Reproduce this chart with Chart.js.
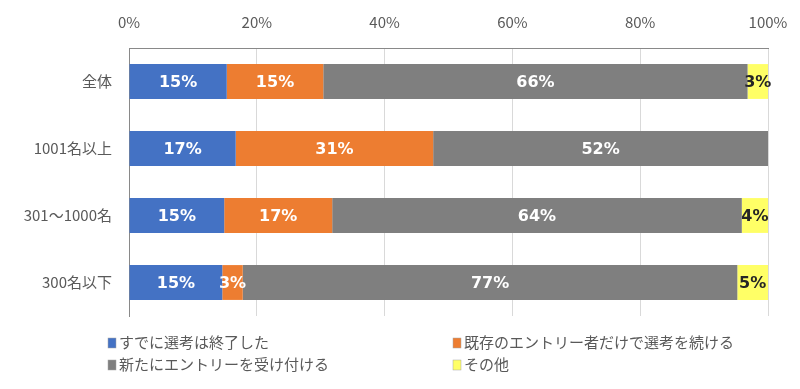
<!DOCTYPE html>
<html><head><meta charset="utf-8">
<script src="https://cdn.jsdelivr.net/npm/chart.js@4/dist/chart.umd.min.js"></script>
<style>html,body{margin:0;padding:0;background:#fff;}#wrap{width:800px;height:389px;position:relative;}</style>
</head><body><div id="wrap"><canvas id="c" width="800" height="389"></canvas></div>
<script>
const categories = ['全体', '1001名以上', '301～1000名', '300名以下'];
const seriesNames = ['すでに選考は終了した', '既存のエントリー者だけで選考を続ける', '新たにエントリーを受け付ける', 'その他'];
const finished = [15.3, 16.7, 14.9, 14.6];
const continuing = [15.1, 30.9, 16.9, 3.2];
const newEntry = [66.4, 52.4, 64.1, 77.4];
const other = [3.2, 0, 4.1, 4.8];
const xTicks = [0, 20, 40, 60, 80, 100];
const colors = ['#4472C4', '#ED7D31', '#7F7F7F', '#FFFF66'];
const labelColors = ['#ffffff', '#ffffff', '#ffffff', '#262626'];

const seriesValues = [finished, continuing, newEntry, other];

const labelPlugin = {
  id: 'barLabels',
  afterDatasetsDraw(chart) {
    const ctx = chart.ctx;
    ctx.save();
    ctx.font = 'bold 16px "DejaVu Sans", Verdana, sans-serif';
    ctx.textAlign = 'center';
    ctx.textBaseline = 'middle';
    chart.data.datasets.forEach((ds, di) => {
      const meta = chart.getDatasetMeta(di);
      meta.data.forEach((bar, i) => {
        const v = ds.data[i];
        if (!v) return;
        const x = (bar.x + bar.base) / 2;
        ctx.fillStyle = labelColors[di];
        ctx.fillText(Math.round(v) + '%', x, bar.y + 1);
      });
    });
    ctx.restore();
  }
};

const legendPlugin = {
  id: 'gridLegend',
  afterDraw(chart) {
    const ctx = chart.ctx;
    ctx.save();
    ctx.font = '15px "Noto Sans CJK JP", sans-serif';
    ctx.textBaseline = 'middle';
    ctx.textAlign = 'left';
    const cols = [108, 453];
    const rows = [342, 364];
    seriesNames.forEach((name, i) => {
      const x = cols[i % 2];
      const y = rows[Math.floor(i / 2)];
      ctx.fillStyle = colors[i];
      ctx.fillRect(x, y - 4, 8, 10);
      ctx.strokeStyle = '#a6a6a6';
      ctx.lineWidth = 0.5;
      ctx.strokeRect(x, y - 4, 8, 10);
      ctx.fillStyle = '#595959';
      ctx.fillText(name, x + 11, y);
    });
    ctx.restore();
  }
};

new Chart(document.getElementById('c'), {
  type: 'bar',
  data: {
    labels: categories,
    datasets: seriesValues.map((vals, i) => ({
      label: seriesNames[i],
      data: vals,
      backgroundColor: colors[i],
      borderWidth: 0,
      barPercentage: 0.52,
      categoryPercentage: 1.0
    }))
  },
  options: {
    indexAxis: 'y',
    responsive: false,
    animation: false,
    layout: { padding: { left: 0, right: 32, top: 0, bottom: 73 } },
    plugins: { legend: { display: false }, tooltip: { enabled: false } },
    scales: {
      x: {
        position: 'top',
        stacked: true,
        min: 0, max: 100,
        afterBuildTicks(scale) { scale.ticks = xTicks.map(v => ({ value: v })); },
        afterFit(scale) { scale.height = 48; scale.paddingLeft = 0; scale.paddingRight = 0; },
        ticks: {
          callback: v => v + '%',
          color: '#595959',
          font: { family: '"Noto Sans CJK JP", sans-serif', size: 15 },
          padding: 17,
          maxRotation: 0
        },
        grid: { color: '#d9d9d9', lineWidth: 1, drawTicks: false },
        border: { display: true, color: '#898989', width: 1 }
      },
      y: {
        stacked: true,
        afterFit(scale) { scale.width = 129; scale.paddingTop = 0; scale.paddingBottom = 0; },
        ticks: {
          color: '#595959',
          font: { family: '"Noto Sans CJK JP", sans-serif', size: 15 },
          padding: 17
        },
        grid: { display: false, drawTicks: false },
        border: { display: true, color: '#898989', width: 1 }
      }
    }
  },
  plugins: [labelPlugin, legendPlugin]
});
</script></body></html>
